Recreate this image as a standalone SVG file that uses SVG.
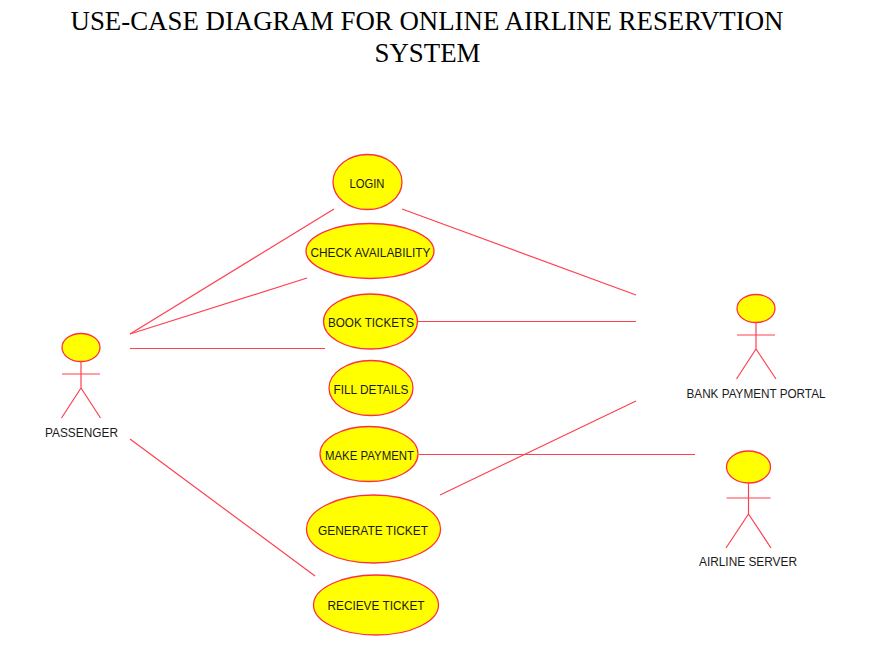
<svg xmlns="http://www.w3.org/2000/svg" width="890" height="666" viewBox="0 0 890 666">
<style>
.bg{fill:#fff}
.s{stroke:#ff4050;stroke-width:1.2;fill:none}
.e{stroke:#ff3040;stroke-width:1.3;fill:#ffff00}
.t{font-family:"Liberation Sans",Arial,sans-serif;font-size:12.5px;fill:#1a1a1a;text-anchor:middle}
.h{font-family:"Liberation Serif","Times New Roman",serif;font-size:26.85px;fill:#000;text-anchor:middle}
</style>
<rect class="bg" width="890" height="666"/>
<g id="title">
<text class="h" x="427" y="30">USE-CASE DIAGRAM FOR ONLINE AIRLINE RESERVTION</text>
<text class="h" x="427.500" y="62">SYSTEM</text>
</g>
<g id="connectors">
<line class="s" x1="130" y1="334" x2="334" y2="209"/>
<line class="s" x1="130" y1="334" x2="307" y2="278"/>
<line class="s" x1="130" y1="348.500" x2="325" y2="348.500"/>
<line class="s" x1="130" y1="439" x2="315" y2="576"/>
<line class="s" x1="402" y1="209" x2="636" y2="295"/>
<line class="s" x1="418" y1="321.500" x2="636" y2="321.500"/>
<line class="s" x1="440" y1="495" x2="636" y2="401"/>
<line class="s" x1="419" y1="454.500" x2="695" y2="454.500"/>
</g>
<g id="uc-login"><ellipse class="e" cx="367.500" cy="182" rx="34.500" ry="27.500"/><text class="t" x="367" y="187.500" textLength="35" lengthAdjust="spacingAndGlyphs">LOGIN</text></g>
<g id="uc-check"><ellipse class="e" cx="370" cy="251" rx="64" ry="27.500"/><text class="t" x="370.500" y="256.500" textLength="120" lengthAdjust="spacingAndGlyphs">CHECK AVAILABILITY</text></g>
<g id="uc-book"><ellipse class="e" cx="370.500" cy="321.500" rx="47" ry="27.500"/><text class="t" x="371" y="326.500" textLength="86" lengthAdjust="spacingAndGlyphs">BOOK TICKETS</text></g>
<g id="uc-fill"><ellipse class="e" cx="371" cy="388" rx="42" ry="27.500"/><text class="t" x="371" y="393.500" textLength="75" lengthAdjust="spacingAndGlyphs">FILL DETAILS</text></g>
<g id="uc-pay"><ellipse class="e" cx="369" cy="454" rx="49" ry="27.500"/><text class="t" x="369.500" y="459.500" textLength="89" lengthAdjust="spacingAndGlyphs">MAKE PAYMENT</text></g>
<g id="uc-generate"><ellipse class="e" cx="373.500" cy="529" rx="67" ry="34"/><text class="t" x="373" y="534.500" textLength="110" lengthAdjust="spacingAndGlyphs">GENERATE TICKET</text></g>
<g id="uc-receive"><ellipse class="e" cx="376" cy="605" rx="62.500" ry="30"/><text class="t" x="376" y="609.500" textLength="97" lengthAdjust="spacingAndGlyphs">RECIEVE TICKET</text></g>
<g id="actor-passenger">
<ellipse class="e" cx="81" cy="347.500" rx="19" ry="14"/>
<path class="s" d="M81 361V388M62 374H100M81 388L61.500 418M81 388L100.500 418"/>
<text class="t" x="81.500" y="437" textLength="73" lengthAdjust="spacingAndGlyphs">PASSENGER</text>
</g>
<g id="actor-bank">
<ellipse class="e" cx="756" cy="308.500" rx="19" ry="14"/>
<path class="s" d="M756 322V349M737 335H775M756 349L736.500 379M756 349L776 379"/>
<text class="t" x="756" y="398" textLength="139" lengthAdjust="spacingAndGlyphs">BANK PAYMENT PORTAL</text>
</g>
<g id="actor-server">
<ellipse class="e" cx="748.500" cy="467" rx="22" ry="16"/>
<path class="s" d="M748.500 482.500V514M726.500 498H770.500M748.500 514L726 548M748.500 514L771 548"/>
<text class="t" x="748" y="566" textLength="98" lengthAdjust="spacingAndGlyphs">AIRLINE SERVER</text>
</g>
</svg>
